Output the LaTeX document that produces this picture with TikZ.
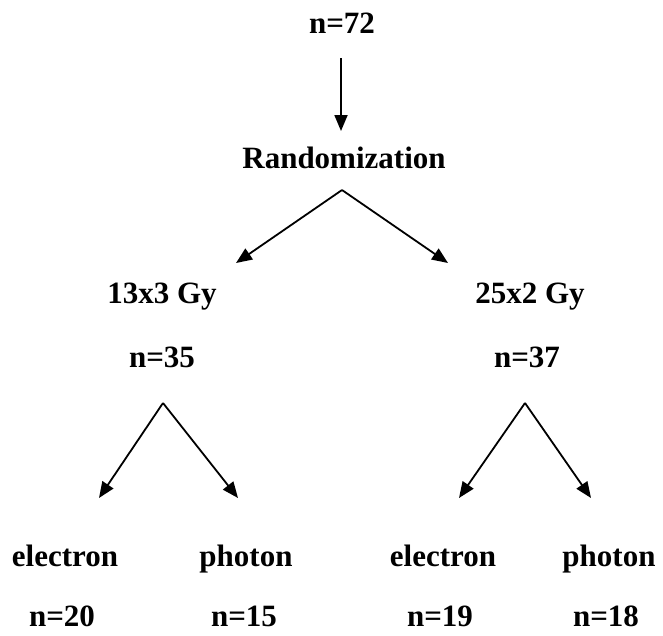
\documentclass[tikz,border=0pt]{standalone}
\usepackage{fontspec}
\setmainfont{Liberation Serif}
\usetikzlibrary{arrows.meta}
\begin{document}
\begin{tikzpicture}[x=1pt,y=-1pt,
  lbl/.style={font=\fontsize{31}{31}\selectfont\bfseries, inner sep=0pt, anchor=base},
  arr/.style={line width=1.8pt, -{Triangle[length=16pt,width=13pt]}}]
\useasboundingbox (0,0) rectangle (663,635);
\node[lbl] (n72) at (342,33) {n=72};
\node[lbl] (rand) at (344,168) {Randomization};
\node[lbl] (g13) at (162,303) {13x3 Gy};
\node[lbl] (g25) at (530,303) {25x2 Gy};
\node[lbl] (n35) at (162,367) {n=35};
\node[lbl] (n37) at (527,367) {n=37};
\node[lbl] (e1) at (65,566) {electron};
\node[lbl] (p1) at (246,566) {photon};
\node[lbl] (e2) at (443,566) {electron};
\node[lbl] (p2) at (609,566) {photon};
\node[lbl] (n20) at (62,626) {n=20};
\node[lbl] (n15) at (244,626) {n=15};
\node[lbl] (n19) at (440,626) {n=19};
\node[lbl] (n18) at (606,626) {n=18};
\coordinate (a0) at (341,58);
\coordinate (a1) at (341,131);
\coordinate (b0) at (342,190);
\coordinate (bl) at (236,263);
\coordinate (br) at (448,263);
\coordinate (c0) at (163,403);
\coordinate (cl) at (99,498);
\coordinate (cr) at (238,498);
\coordinate (d0) at (525,403);
\coordinate (dl) at (459,498);
\coordinate (dr) at (591,498);
\draw[arr] (a0) -- (a1);
\draw[arr] (b0) -- (bl);
\draw[arr] (b0) -- (br);
\draw[arr] (c0) -- (cl);
\draw[arr] (c0) -- (cr);
\draw[arr] (d0) -- (dl);
\draw[arr] (d0) -- (dr);
\end{tikzpicture}
\end{document}
